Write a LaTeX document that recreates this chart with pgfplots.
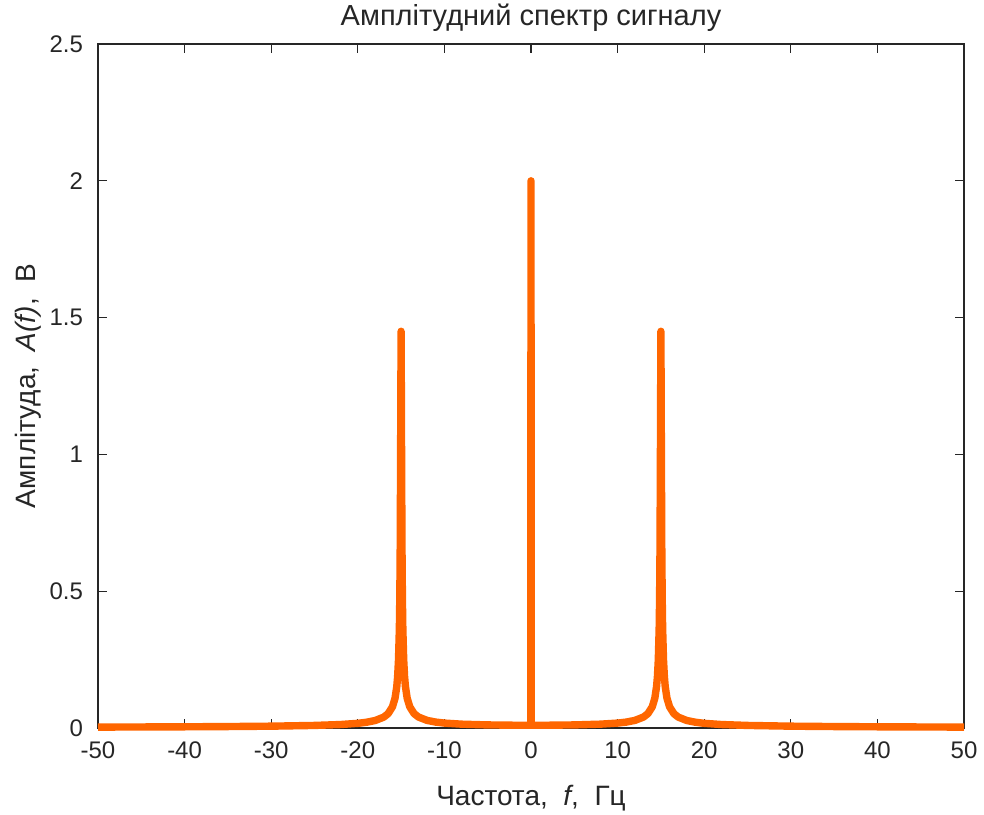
\documentclass[border=0pt]{standalone}
\usepackage{fontspec}
\setmainfont{Liberation Sans}
\usepackage{pgfplots}
\pgfplotsset{compat=1.18}
\definecolor{txt}{HTML}{262626}
\definecolor{org}{HTML}{FF6600}
\begin{document}
\begin{tikzpicture}
\useasboundingbox (-49pt,-43pt) rectangle (443pt,364pt);
\begin{axis}[
  at={(0pt,0pt)}, anchor=south west,
  scale only axis,
  width=433pt, height=342pt,
  xmin=-50, xmax=50, ymin=0, ymax=2.5,
  xtick={-50,-40,-30,-20,-10,0,10,20,30,40,50},
  xticklabels={-50,-40,-30,-20,-10,0,10,20,30,40,50},
  ytick={0,0.5,1,1.5,2,2.5},
  yticklabels={0,0.5,1,1.5,2,2.5},
  tick align=inside,
  tick pos=both,
  major tick length=4.5pt,
  axis line style={txt, line width=0.65pt},
  every tick/.style={txt, line width=0.65pt},
  ticklabel style={font=\fontsize{12}{14}\selectfont, text=txt},
  xticklabel style={yshift=-3.5pt},
  yticklabel style={xshift=-4pt},
  label style={font=\fontsize{14}{16}\selectfont, text=txt},
  xlabel={Частота,\ \ \textit{f},\ \ Гц},
  ylabel={Амплітуда,\ \ \textit{A(f)},\ \ В},
  xlabel style={at={(axis description cs:0.5,0)}, anchor=center, yshift=-35pt},
  ylabel style={at={(axis description cs:0,0.5)}, anchor=center, rotate=0, yshift=35pt},
  title={Амплітудний спектр сигналу},
  title style={font=\fontsize{14.5}{16}\selectfont, text=txt, at={(axis description cs:0.5,1)}, anchor=center, yshift=7pt},
  clip=false,
]
\addplot[org, line width=3.7pt, line join=round, line cap=butt] coordinates {
(-50,0.0033) (-45,0.0038) (-40,0.0044) (-35,0.0053) (-30,0.0067) (-25,0.0094)
(-22,0.0127) (-20,0.0171) (-19,0.021) (-18,0.0273) (-17,0.0398) (-16.5,0.0524)
(-16,0.0774) (-15.7,0.109) (-15.5,0.151) (-15.4,0.1885) (-15.3,0.249) (-15.2,0.363)
(-15.15,0.475) (-15.1,0.669) (-15.05,1.043) (-15,1.45) (-14.95,1.043) (-14.9,0.669)
(-14.85,0.475) (-14.8,0.363) (-14.7,0.249) (-14.6,0.1885) (-14.5,0.152) (-14.3,0.109)
(-14,0.0775) (-13.5,0.0526) (-13,0.0402) (-12,0.0278) (-11,0.0216) (-10,0.018)
(-8,0.014) (-5,0.0113) (-2,0.0102) (-0.02,0.0100) (0,2.0) (0.02,0.0100)
(2,0.0102) (5,0.0113) (8,0.014) (10,0.018) (11,0.0216) (12,0.0278) (13,0.0402)
(13.5,0.0526) (14,0.0775) (14.3,0.109) (14.5,0.152) (14.6,0.1885) (14.7,0.249)
(14.8,0.363) (14.85,0.475) (14.9,0.669) (14.95,1.043) (15,1.45) (15.05,1.043)
(15.1,0.669) (15.15,0.475) (15.2,0.363) (15.3,0.249) (15.4,0.1885) (15.5,0.151)
(15.7,0.109) (16,0.0774) (16.5,0.0524) (17,0.0398) (18,0.0273) (19,0.021)
(20,0.0171) (22,0.0127) (25,0.0094) (30,0.0067) (35,0.0053) (40,0.0044)
(45,0.0038) (50,0.0033)
};
\end{axis}
\end{tikzpicture}
\end{document}
